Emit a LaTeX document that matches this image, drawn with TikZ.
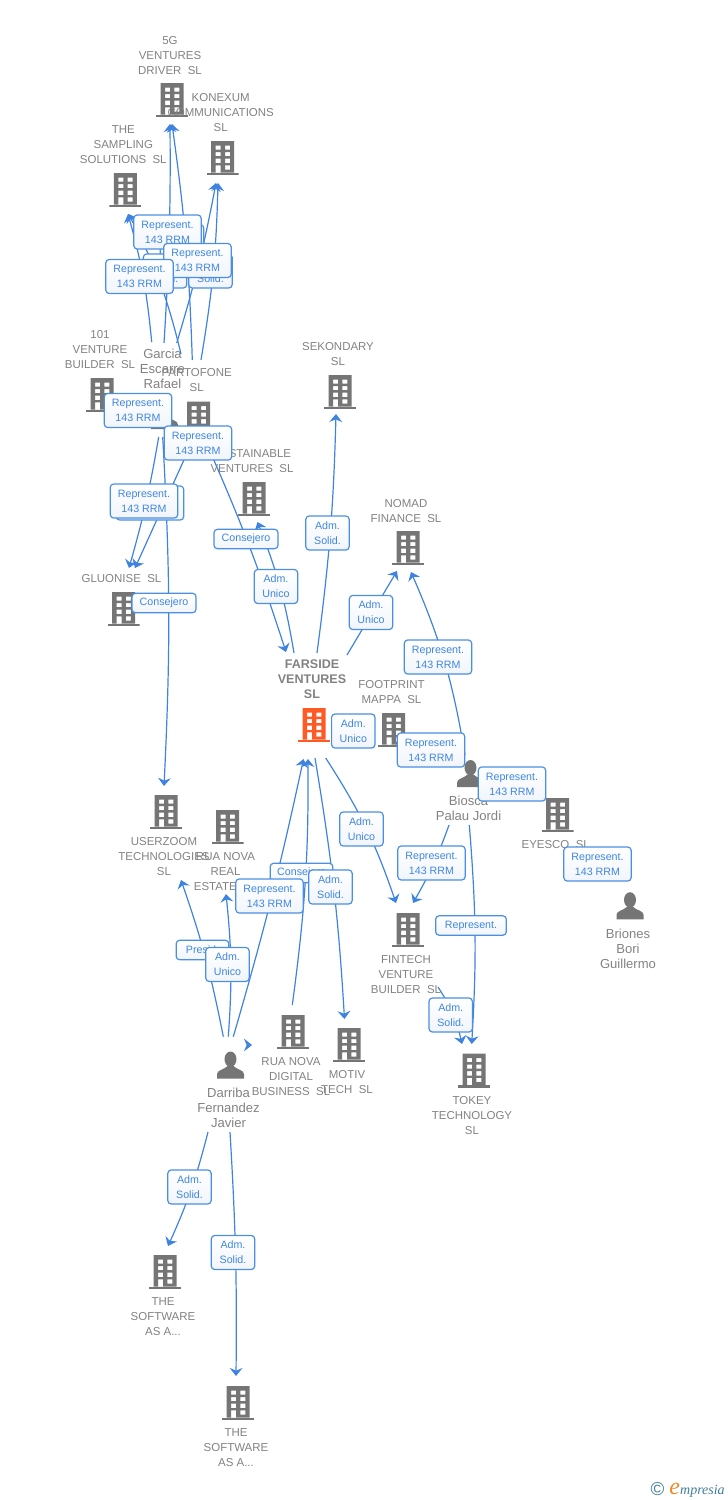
\documentclass[tikz,border=0pt]{standalone}
\usepackage{xcolor}
\usepackage{fontspec}
\setmainfont{Liberation Sans}
\newfontfamily\brandfont{Liberation Serif}
\usetikzlibrary{arrows.meta,positioning}

\definecolor{iconGray}{HTML}{757575}
\definecolor{nameGray}{HTML}{828282}
\definecolor{farOrange}{HTML}{FF5A26}
\definecolor{linkBlue}{HTML}{3F83E0}
\definecolor{tagBlue}{HTML}{4A8FE4}
\definecolor{tagText}{HTML}{3F86E2}
\definecolor{tagFill}{HTML}{F1F5FB}
\definecolor{brandTeal}{HTML}{3F7F98}
\definecolor{brandOrange}{HTML}{F08A24}

\tikzset{
  office/.default=iconGray,
  office/.style={minimum width=24pt, minimum height=25.5pt, inner sep=0pt, path picture={
    \begin{scope}[shift={(path picture bounding box.center)}]
      \fill[#1, even odd rule] (-11.5,-17) rectangle (11.5,14.7)
        (-7,-12.3) rectangle (-2,-8.3) (2.3,-12.3) rectangle (7.3,-8.3)
        (-7,-6) rectangle (-2,-2) (2.3,-6) rectangle (7.3,-2)
        (-7,0.7) rectangle (-2,5) (2.3,0.7) rectangle (7.3,5)
        (-7,7.3) rectangle (-2,14.7) (2.3,7.3) rectangle (7.3,11.7);
      \fill[#1] (-16,14.7) rectangle (16,17);
    \end{scope}}},
  person/.style={minimum width=20.5pt, minimum height=20.5pt, inner sep=0pt, path picture={
    \begin{scope}[shift={(path picture bounding box.center)}]
      \fill[iconGray] (0,-5.8) ellipse (6 and 7.7);
      \fill[iconGray] (-13.5,13.6) -- (-13.5,9) .. controls (-13.5,5) and (-6,4.5) .. (-3,1)
        -- (3,1) .. controls (6,4.5) and (13.5,5) .. (13.5,9) -- (13.5,13.6) -- cycle;
    \end{scope}}},
  nametext/.style={text=nameGray, font=\fontsize{8.6}{11.25}\selectfont, align=center, inner sep=0pt, xshift=-1.5pt},
  persontext/.style={nametext, font=\fontsize{9.8}{11.25}\selectfont},
  farsidetext/.style={nametext, font=\fontsize{9.4}{11.25}\selectfont\bfseries},
  link/.style={draw=linkBlue, line width=0.9pt, -{Stealth[length=6pt, width=9.5pt, inset=2pt]}},
  tag/.style={draw=tagBlue, line width=0.9pt, rounded corners=2.5pt, top color=white, bottom color=tagFill,
    text=tagText, font=\fontsize{8}{11.25}\selectfont, align=center, inner sep=0pt, minimum height=25.5pt},
  reptag/.style={tag, minimum width=50.5pt},
  admtag/.style={tag, minimum width=32.5pt},
  linetag/.style={tag, minimum height=14.5pt, minimum width=48pt}
}

\begin{document}
\begin{tikzpicture}[x=0.75pt, y=-0.75pt]
  \useasboundingbox (0,0) rectangle (728,1500);

  % companies and people
  \node[office] (driver) at (172,100) {};
  \node[office] (konexum) at (222.7,158) {};
  \node[office] (sampling) at (125.3,190) {};
  \node[office] (venture) at (102,395) {};
  \node[person] (garcia) at (164.5,415.5) {};
  \node[office] (partofone) at (198.7,418.5) {};
  \node[office] (sustainable) at (254,499) {};
  \node[office] (gluonise) at (123.5,609) {};
  \node[office] (sekondary) at (340,392) {};
  \node[office] (nomad) at (408,548) {};
  \node[office=farOrange] (farside) at (314,725) {};
  \node[office] (footprint) at (393.5,730) {};
  \node[person] (biosca) at (470.5,773.5) {};
  \node[office] (eyesco) at (557.7,815) {};
  \node[person] (briones) at (630,905.7) {};
  \node[office] (userzoom) at (166,812) {};
  \node[office] (ruareal) at (227.5,827) {};
  \node[office] (fintech) at (408,930) {};
  \node[office] (tokey) at (474,1070.5) {};
  \node[office] (ruadigital) at (293,1032) {};
  \node[office] (motiv) at (349,1045) {};
  \node[person] (darriba) at (230.5,1065) {};
  \node[office] (softone) at (165,1272) {};
  \node[office] (softtwo) at (238,1403) {};

  % their names
  \node[nametext, above=6pt of driver] (drivername) {5G\\VENTURES\\DRIVER\ \ SL};
  \node[nametext, above=7pt of konexum] (konexumname) {KONEXUM\\COMMUNICATIONS\\SL};
  \node[nametext, above=7pt of sampling] (samplingname) {THE\\SAMPLING\\SOLUTIONS\ \ SL};
  \node[nametext, above=7pt of venture] (venturename) {101\\VENTURE\\BUILDER\ \ SL};
  \node[persontext, above=9.5pt of garcia] (garcianame) {Garcia\\Escarre\\Rafael};
  \node[nametext, above=7pt of partofone] (partofonename) {PARTOFONE\\SL};
  \node[nametext, above=7pt of sustainable] (sustainablename) {SUSTAINABLE\\VENTURES\ \ SL};
  \node[nametext, above=7pt of gluonise] (gluonisename) {GLUONISE\ \ SL};
  \node[nametext, above=7pt of sekondary] (sekondaryname) {SEKONDARY\\SL};
  \node[nametext, above=6pt of nomad] (nomadname) {NOMAD\\FINANCE\ \ SL};
  \node[farsidetext, above=7pt of farside] (farsidename) {FARSIDE\\VENTURES\\SL};
  \node[nametext, above=7pt of footprint] (footprintname) {FOOTPRINT\\MAPPA\ \ SL};
  \node[persontext, below=6.5pt of biosca] (bioscaname) {Biosca\\Palau Jordi};
  \node[nametext, below=6pt of eyesco] (eyesconame) {EYESCO\ \ SL};
  \node[persontext, below=6.5pt of briones] (brionesname) {Briones\\Bori\\Guillermo};
  \node[nametext, below=6pt of userzoom] (userzoomname) {USERZOOM\\TECHNOLOGIES\\SL};
  \node[nametext, below=6pt of ruareal] (ruarealname) {RUA NOVA\\REAL\\ESTATE\ \ SL};
  \node[nametext, below=6pt of fintech] (fintechname) {FINTECH\\VENTURE\\BUILDER\ \ SL};
  \node[nametext, below=6pt of tokey] (tokeyname) {TOKEY\\TECHNOLOGY\\SL};
  \node[nametext, below=6pt of ruadigital] (ruadigitalname) {RUA NOVA\\DIGITAL\\BUSINESS\ \ SL};
  \node[nametext, below=6pt of motiv] (motivname) {MOTIV\\TECH\ \ SL};
  \node[persontext, below=6.5pt of darriba] (darribaname) {Darriba\\Fernandez\\Javier};
  \node[nametext, below=6pt of softone] (softonename) {THE\\SOFTWARE\\AS A...};
  \node[nametext, below=6pt of softtwo] (softtwoname) {THE\\SOFTWARE\\AS A...};

  % links
  \draw[link] ([shift={(-12.8,-73.5)}]garcia.center) to[bend right=5] ([shift={(2.7,24)}]sampling.center);
  \draw[link] ([shift={(-17.7,-64.5)}]partofone.center) to[bend right=7] ([shift={(3.2,24)}]sampling.center);
  \draw[link] ([shift={(-0.5,-72.5)}]garcia.center) to[bend right=2] ([shift={(-2,24)}]driver.center);
  \draw[link] ([shift={(-6.4,-58.5)}]partofone.center) to[bend right=3] ([shift={(0,24)}]driver.center);
  \draw[link] ([shift={(12.2,-72.5)}]garcia.center) to[bend right=3] ([shift={(-6.7,25)}]konexum.center);
  \draw[link] ([shift={(2.3,-58.5)}]partofone.center) to[bend right=4] ([shift={(-4.7,25)}]konexum.center);
  \draw[link] ([shift={(-5.8,21.5)}]garcia.center) to[bend left=3] ([shift={(5.5,-41)}]gluonise.center);
  \draw[link] ([shift={(-5.7,21.5)}]partofone.center) -- ([shift={(11.5,-41)}]gluonise.center);
  \draw[link] ([shift={(-1.8,21.5)}]garcia.center) to[bend left=3] ([shift={(-2,-26)}]userzoom.center);
  \draw[link] ([shift={(6.3,21.5)}]partofone.center) to[bend left=3] ([shift={(-28,-73)}]farside.center);
  \draw[link] ([shift={(-20,-72)}]farside.center) to[bend right=6] ([shift={(3.5,23)}]sustainable.center);
  \draw[link] ([shift={(3,-72)}]farside.center) to[bend right=3] ([shift={(-4,22)}]sekondary.center);
  \draw[link] ([shift={(33,-70)}]farside.center) -- ([shift={(-11,23)}]nomad.center);
  \draw[link] ([shift={(-5.5,-18.5)}]biosca.center) to[bend right=7] ([shift={(3,24)}]nomad.center);
  \draw[link] ([shift={(-21.5,51.5)}]biosca.center) to[bend left=5] ([shift={(5,-27)}]fintech.center);
  \draw[link] ([shift={(-1.2,51.5)}]biosca.center) to[bend left=4] ([shift={(-2.3,-26.5)}]tokey.center);
  \draw[link] ([shift={(11.7,33)}]farside.center) to[bend left=7] ([shift={(-12,-27)}]fintech.center);
  \draw[link] ([shift={(30,57)}]fintech.center) to[bend left=10] ([shift={(-12,-26.5)}]tokey.center);
  \draw[link] ([shift={(2.8,-28.3)}]darriba.center) to[bend right=2] ([shift={(-10.5,34)}]farside.center);
  \draw[link] ([shift={(-0.7,-27)}]ruadigital.center) to[bend right=4] ([shift={(-6,34)}]farside.center);
  \draw[link] ([shift={(1,33)}]farside.center) to[bend left=3] ([shift={(-4.5,-26)}]motiv.center);
  \draw[link] ([shift={(-7.2,-28.3)}]darriba.center) to[bend right=4] ([shift={(15,68)}]userzoom.center);
  \draw[link] ([shift={(-2.2,-28.3)}]darriba.center) to[bend right=5] ([shift={(-1.5,67)}]ruareal.center);
  \draw[link] ([shift={(16.5,-20)}]darriba.center) -- ([shift={(-41,13)}]ruadigital.center);
  \draw[link] ([shift={(-22.5,67)}]darriba.center) to[bend left=5] ([shift={(3,-26)}]softone.center);
  \draw[link] ([shift={(-0.5,67)}]darriba.center) to[bend left=2] ([shift={(-2,-27)}]softtwo.center);

  % labels on the links
  \node[admtag] (tagsolida) at (182,241.5) {Adm.\\Solid.};
  \node[reptag] (tagrepa) at (167.5,232) {Represent.\\143 RRM};
  \node[admtag] (tagsolidb) at (165,271) {Adm.\\Solid.};
  \node[admtag] (tagsolidc) at (210.5,271) {Adm.\\Solid.};
  \node[reptag] (tagrepb) at (197.5,260.5) {Represent.\\143 RRM};
  \node[reptag] (tagrepc) at (139.5,276.5) {Represent.\\143 RRM};
  \node[reptag] (tagrepd) at (138,410.5) {Represent.\\143 RRM};
  \node[reptag] (tagrepe) at (198,443) {Represent.\\143 RRM};
  \node[reptag] (tagrepf) at (150,503) {Represent.\\143 RRM};
  \node[reptag] (tagrepg) at (144,501) {Represent.\\143 RRM};
  \node[linetag] (tagconsa) at (246,539) {Consejero};
  \node[admtag] (tagunia) at (276,586.5) {Adm.\\Unico};
  \node[linetag] (tagconsb) at (164,603) {Consejero};
  \node[admtag] (tagsolidd) at (327.5,533) {Adm.\\Solid.};
  \node[admtag] (taguni) at (371,612.5) {Adm.\\Unico};
  \node[reptag] (tagreph) at (438,657) {Represent.\\143 RRM};
  \node[admtag] (tagunib) at (353.3,731) {Adm.\\Unico};
  \node[reptag] (tagrepi) at (431,750) {Represent.\\143 RRM};
  \node[reptag] (tagrepj) at (512,784) {Represent.\\143 RRM};
  \node[admtag] (tagunic) at (361.5,829) {Adm.\\Unico};
  \node[reptag] (tagrepk) at (431.5,863) {Represent.\\143 RRM};
  \node[reptag] (tagrepl) at (597.5,864) {Represent.\\143 RRM};
  \node[linetag, minimum width=53pt] (tagrepm) at (471,925.5) {Represent.};
  \node[admtag] (tagsolide) at (450.7,1015) {Adm.\\Solid.};
  \node[linetag, minimum width=47pt] (tagconsc) at (301.5,873) {Consejero};
  \node[reptag] (tagrepn) at (269.5,896) {Represent.\\143 RRM};
  \node[admtag] (tagsolidf) at (330.5,887) {Adm.\\Solid.};
  \node[linetag, minimum width=39.5pt] (tagpres) at (202.5,950) {Presid.};
  \node[admtag] (tagunid) at (227.5,964.5) {Adm.\\Unico};
  \node[admtag] (tagsolidg) at (189.5,1187) {Adm.\\Solid.};
  \node[admtag] (tagsolidh) at (233,1252.5) {Adm.\\Solid.};

  % brand in the corner
  \node[text=brandTeal, font=\fontsize{14}{14}\selectfont, inner sep=0pt] (brandmark) at (657.5,1489) {\copyright};
  \node[anchor=base east, text=brandTeal, inner sep=0pt, font=\brandfont\itshape\fontsize{10.5}{12}\selectfont] (brandname) at (725,1494)
    {{\color{brandOrange}\fontsize{18}{18}\selectfont e}mpresia};
\end{tikzpicture}
\end{document}
